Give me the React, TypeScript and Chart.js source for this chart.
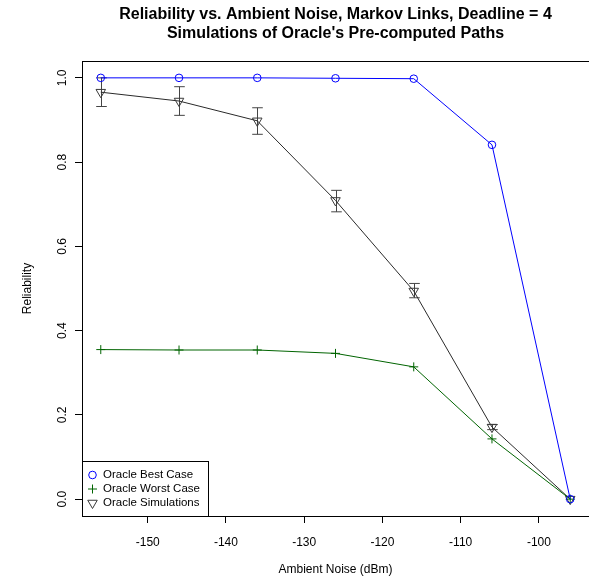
import React, { useEffect, useRef } from 'react';
import { Chart, registerables } from 'chart.js';

Chart.register(...registerables);

const noise = [-156, -146, -136, -126, -116, -106, -96];
const bestCase = [1.0, 1.0, 1.0, 0.999, 0.998, 0.841, 0.0];
const worstCase = [0.355, 0.354, 0.354, 0.346, 0.314, 0.143, 0.0];
const simulations = [0.966, 0.945, 0.898, 0.709, 0.494, 0.171, 0.0];
const simLow = [0.932, 0.911, 0.866, 0.682, 0.478, 0.165, 0.0];
const simHigh = [1.0, 0.979, 0.929, 0.733, 0.512, 0.177, 0.0];

const xTicks = [-150, -140, -130, -120, -110, -100];
const yTicks = [0, 0.2, 0.4, 0.6, 0.8, 1.0];
const yTickLabels = ['0.0', '0.2', '0.4', '0.6', '0.8', '1.0'];
const titleLines = [
  'Reliability vs. Ambient Noise, Markov Links, Deadline = 4',
  "Simulations of Oracle's Pre-computed Paths",
];
const seriesNames = ['Oracle Best Case', 'Oracle Worst Case', 'Oracle Simulations'];
const xTitle = 'Ambient Noise (dBm)';
const yTitle = 'Reliability';

const FONT = '"Liberation Sans", Arial, Helvetica, sans-serif';
const BLUE = '#0000ff';
const GREEN = '#006400';
const SIM = '#2a2a2a';
const SIM_MARK = '#3a3a3a';

const toXY = (ys: number[]) => ys.map((y, i) => ({ x: noise[i], y }));

function drawSymbol(ctx: CanvasRenderingContext2D, kind: string, x: number, y: number) {
  ctx.save();
  ctx.lineWidth = 1;
  if (kind === 'circle') {
    ctx.strokeStyle = BLUE;
    ctx.beginPath();
    ctx.arc(x, y, 3.8, 0, Math.PI * 2);
    ctx.stroke();
  } else if (kind === 'cross') {
    ctx.strokeStyle = GREEN;
    ctx.beginPath();
    ctx.moveTo(x - 4.5, y);
    ctx.lineTo(x + 4.5, y);
    ctx.moveTo(x, y - 4.5);
    ctx.lineTo(x, y + 4.5);
    ctx.stroke();
  } else {
    ctx.strokeStyle = SIM_MARK;
    const r = 5.5;
    ctx.beginPath();
    ctx.moveTo(x, y + r);
    ctx.lineTo(x - r * Math.sin(Math.PI / 3), y - r * 0.5);
    ctx.lineTo(x + r * Math.sin(Math.PI / 3), y - r * 0.5);
    ctx.closePath();
    ctx.stroke();
  }
  ctx.restore();
}

const rPlugin = {
  id: 'rStyle',
  beforeDatasetsDraw(chart: any) {
    const { ctx, scales } = chart;
    const xs = scales.x;
    const ys = scales.y;
    ctx.save();
    ctx.strokeStyle = '#444';
    ctx.lineWidth = 1;
    for (let i = 0; i < noise.length; i++) {
      if (simHigh[i] - simLow[i] <= 0) continue;
      const px = Math.round(xs.getPixelForValue(noise[i])) + 0.5;
      const lo = ys.getPixelForValue(simLow[i]);
      const hi = ys.getPixelForValue(simHigh[i]);
      ctx.beginPath();
      ctx.moveTo(px, lo);
      ctx.lineTo(px, hi);
      ctx.moveTo(px - 5.3, lo);
      ctx.lineTo(px + 5.3, lo);
      ctx.moveTo(px - 5.3, hi);
      ctx.lineTo(px + 5.3, hi);
      ctx.stroke();
    }
    ctx.restore();
  },
  afterDraw(chart: any) {
    const { ctx, chartArea, scales } = chart;
    const ys = scales.y;
    ctx.save();
    ctx.strokeStyle = '#000';
    ctx.lineWidth = 1;
    ctx.strokeRect(
      Math.round(chartArea.left) + 0.5,
      Math.round(chartArea.top) + 0.5,
      Math.round(chartArea.right - chartArea.left),
      Math.round(chartArea.bottom - chartArea.top)
    );
    ctx.fillStyle = '#000';
    ctx.font = `12px ${FONT}`;
    ctx.textAlign = 'center';
    ctx.textBaseline = 'middle';
    yTicks.forEach((v, i) => {
      const py = ys.getPixelForValue(v);
      ctx.save();
      ctx.translate(63, py);
      ctx.rotate(-Math.PI / 2);
      ctx.fillText(yTickLabels[i], 0, 0);
      ctx.restore();
    });
    ctx.font = `bold 16px ${FONT}`;
    const cx = (chartArea.left + chartArea.right) / 2;
    ctx.fillText(titleLines[0], cx, 15);
    ctx.fillText(titleLines[1], cx, 34);
    const lx = Math.round(chartArea.left) + 0.5;
    const lb = Math.round(chartArea.bottom) + 0.5;
    const lw = 126;
    const lh = 55;
    ctx.fillStyle = '#fff';
    ctx.fillRect(lx, lb - lh, lw, lh);
    ctx.strokeStyle = '#000';
    ctx.strokeRect(lx, lb - lh, lw, lh);
    const kinds = ['circle', 'cross', 'triangle'];
    ctx.font = `11.5px ${FONT}`;
    ctx.textAlign = 'left';
    for (let i = 0; i < 3; i++) {
      const ry = lb - lh + 13.5 + i * 14;
      drawSymbol(ctx, kinds[i], lx + 10, ry);
      ctx.fillStyle = '#000';
      ctx.fillText(seriesNames[i], lx + 20.5, ry);
    }
    ctx.restore();
  },
};

export default function App() {
  const ref = useRef<HTMLCanvasElement>(null);
  useEffect(() => {
    const canvas = ref.current;
    if (!canvas) return;
    const chart = new Chart(canvas, {
      type: 'line',
      data: {
        datasets: [
          {
            label: seriesNames[0],
            data: toXY(bestCase),
            borderColor: BLUE,
            borderWidth: 1,
            pointStyle: 'circle',
            pointRadius: 3.8,
            pointBorderColor: BLUE,
            pointBackgroundColor: 'rgba(0,0,0,0)',
            pointBorderWidth: 1,
            tension: 0,
          },
          {
            label: seriesNames[1],
            data: toXY(worstCase),
            borderColor: GREEN,
            borderWidth: 1,
            pointStyle: 'cross',
            pointRadius: 4.5,
            pointBorderColor: GREEN,
            pointBorderWidth: 1,
            tension: 0,
          },
          {
            label: seriesNames[2],
            data: toXY(simulations),
            borderColor: SIM,
            borderWidth: 1,
            pointStyle: 'triangle',
            pointRotation: 180,
            pointRadius: 5.5,
            pointBorderColor: SIM_MARK,
            pointBackgroundColor: 'rgba(0,0,0,0)',
            pointBorderWidth: 1,
            tension: 0,
          },
        ],
      },
      options: {
        responsive: false,
        devicePixelRatio: 1,
        animation: false,
        layout: { autoPadding: false, padding: { left: 0, right: 0, top: 61, bottom: 0 } },
        plugins: {
          legend: { display: false },
          title: { display: false },
          tooltip: { enabled: false },
        },
        scales: {
          x: {
            type: 'linear',
            min: -158.4,
            max: -93.6,
            afterBuildTicks: (s: any) => {
              s.ticks = xTicks.map((v) => ({ value: v }));
            },
            afterFit: (s: any) => {
              s.height = 72;
              s.paddingLeft = 0;
              s.paddingRight = 0;
            },
            border: { display: false },
            grid: {
              drawOnChartArea: false,
              drawTicks: true,
              tickLength: 7,
              color: '#000',
              tickColor: '#000',
            },
            ticks: {
              color: '#000',
              font: { family: FONT, size: 12 },
              padding: 12,
              maxRotation: 0,
              autoSkip: false,
              callback: (v: any) => String(v),
            },
            title: {
              display: true,
              text: xTitle,
              color: '#000',
              font: { family: FONT, size: 12 },
              padding: { top: 0, bottom: 11 },
            },
          },
          y: {
            type: 'linear',
            min: -0.04,
            max: 1.04,
            afterBuildTicks: (s: any) => {
              s.ticks = yTicks.map((v) => ({ value: v }));
            },
            afterFit: (s: any) => {
              s.width = 82;
              s.paddingTop = 0;
              s.paddingBottom = 0;
            },
            border: { display: false },
            grid: {
              drawOnChartArea: false,
              drawTicks: true,
              tickLength: 7,
              color: '#000',
              tickColor: '#000',
            },
            ticks: { display: false },
            title: {
              display: true,
              text: yTitle,
              color: '#000',
              font: { family: FONT, size: 12 },
              padding: { top: 20, bottom: 0 },
            },
          },
        },
      },
      plugins: [rPlugin],
    });
    return () => chart.destroy();
  }, []);
  return (
    <div style={{ position: 'fixed', left: 0, top: 0, width: 589, height: 588, background: '#fff' }}>
      <canvas ref={ref} width={589} height={588} style={{ display: 'block', width: 589, height: 588 }} />
    </div>
  );
}
